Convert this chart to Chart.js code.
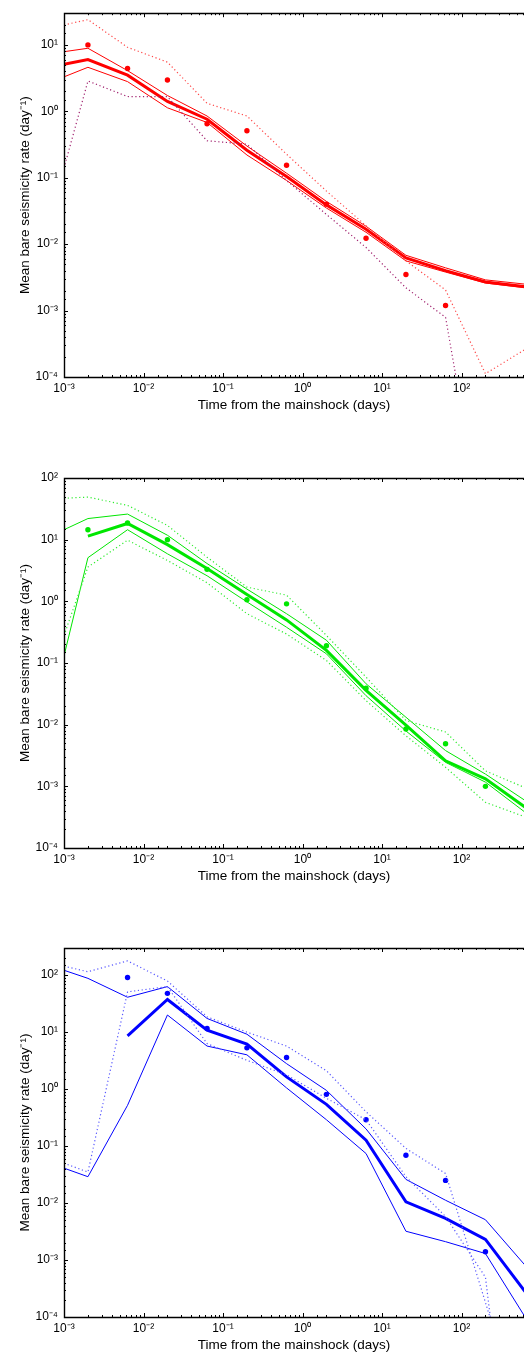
<!DOCTYPE html>
<html>
<head>
<meta charset="utf-8">
<script src="https://cdn.jsdelivr.net/npm/chart.js@4.4.1/dist/chart.umd.min.js"></script>
<style>
  html, body { margin: 0; padding: 0; background: #fff; overflow: hidden; }
  .panel { position: absolute; left: 0; width: 528px; }
</style>
</head>
<body>
<div class="panel" style="top:0px"><canvas id="c1" width="528" height="417"></canvas></div>
<div class="panel" style="top:448px"><canvas id="c2" width="528" height="440"></canvas></div>
<div class="panel" style="top:918px"><canvas id="c3" width="528" height="439"></canvas></div>
<script>
// ── Données ───────────────────────────────────────────────────────────────────
const TIMES = [0.001, 0.002, 0.0063, 0.02, 0.063, 0.2, 0.63, 2, 6.3, 20, 63, 200, 630];

const X_DECADES     = [-3, -2, -1, 0, 1, 2];
const X_TICK_LABELS = ['10⁻³', '10⁻²', '10⁻¹', '10⁰', '10¹', '10²'];
const Y_DECADES     = [-4, -3, -2, -1, 0, 1, 2];
const Y_TICK_LABELS = ['10⁻⁴', '10⁻³', '10⁻²', '10⁻¹', '10⁰', '10¹', '10²'];

const X_TITLE = 'Time from the mainshock (days)';
const Y_TITLE = 'Mean bare seismicity rate (day⁻¹)';

// panneau 1 (rouge)
const redObserved = [null, 10, 4.4, 2.96, 0.65, 0.51, 0.154, 0.04, 0.0123, 0.0035, 0.00119, null, null];
const redMean     = [5.1, 6.0, 3.5, 1.41, 0.76, 0.26, 0.104, 0.039, 0.0168, 0.0062, 0.0040, 0.0027, 0.0023];
const redUpper    = [7.9, 8.9, 4.1, 1.73, 0.85, 0.30, 0.117, 0.044, 0.0186, 0.0068, 0.0044, 0.0029, 0.0025];
const redLower    = [3.3, 4.6, 2.8, 1.13, 0.68, 0.22, 0.091, 0.035, 0.0151, 0.0056, 0.0038, 0.0026, 0.0022];
const redDotHi    = [20, 24, 9.2, 5.5, 1.32, 0.85, 0.226, 0.063, 0.019, 0.0056, 0.00204, 0.000112, 0.00026];
const redDotLo    = [0.14, 2.86, 1.67, 1.66, 0.36, 0.32, 0.091, 0.028, 0.0089, 0.0022, 0.00079, 3e-7, null];

// panneau 2 (vert)
const greenObserved = [null, 14.5, 18.6, 10, 3.3, 1.06, 0.91, 0.19, 0.039, 0.0085, 0.0049, 0.001, null];
const greenMean     = [null, 11.4, 18.3, 8.3, 3.4, 1.29, 0.5, 0.16, 0.036, 0.0098, 0.0026, 0.00132, 0.00046];
const greenUpper    = [14.5, 22, 26, 11.8, 4.1, 1.58, 0.63, 0.234, 0.046, 0.0132, 0.0038, 0.00158, 0.00059];
const greenLower    = [0.13, 5.1, 14.5, 5.9, 2.6, 0.98, 0.38, 0.141, 0.0295, 0.0079, 0.00245, 0.00117, 0.00038];
const greenDotHi    = [47, 49, 36, 17, 5.2, 1.7, 1.26, 0.28, 0.059, 0.0117, 0.0076, 0.00178, 0.00095];
const greenDotLo    = [0.28, 3.6, 9.8, 4.6, 2.0, 0.63, 0.295, 0.11, 0.0245, 0.0066, 0.00204, 0.00055, 0.00032];

// panneau 3 (bleu)
const blueObserved = [null, null, 91, 48, 11.6, 5.3, 3.6, 0.81, 0.29, 0.069, 0.025, 0.0014, null];
const blueMean     = [null, null, 8.6, 37.5, 10.8, 6.2, 1.64, 0.54, 0.127, 0.0105, 0.0054, 0.0023, 0.00028];
const blueUpper    = [122, 88, 41, 63, 17.4, 9.2, 2.8, 0.95, 0.2, 0.026, 0.0112, 0.0051, 0.00081];
const blueLower    = [0.041, 0.029, 0.52, 20, 5.7, 4.0, 1.05, 0.29, 0.074, 0.0032, 0.0021, 0.0013, 0.0001];
const blueDotHi    = [144, 115, 178, 79, 18.6, 10, 5.7, 2.1, 0.4, 0.091, 0.033, 0.00018, 1e-6];
const blueDotLo    = [0.05, 0.035, 51, 63, 6.3, 3.2, 1.78, 0.69, 0.29, 0.029, 0.0058, 0.0005, 1e-9];

// ── Utilitaires ───────────────────────────────────────────────────────────────
function points(vals) {
  return vals.map((v, i) => ({ x: TIMES[i], y: v })).filter(p => p.y != null);
}

function decadeOf(v) {
  const e = Math.log10(v);
  return Math.abs(e - Math.round(e)) < 1e-6 ? Math.round(e) : null;
}

function labelFor(decades, labels) {
  return v => {
    const e = decadeOf(v);
    const i = e === null ? -1 : decades.indexOf(e);
    return i >= 0 ? labels[i] : '';
  };
}

// cadre + graduations vers l'intérieur (style MATLAB)
const frameTicks = {
  id: 'frameTicks',
  afterDraw(chart) {
    const { ctx, chartArea: a, scales: { x, y } } = chart;
    ctx.save();
    ctx.strokeStyle = '#000';
    ctx.lineWidth = 1;
    ctx.beginPath();
    x.ticks.forEach(t => {
      const px = Math.round(x.getPixelForValue(t.value)) + 0.5;
      if (px < a.left - 1 || px > a.right) return;
      const len = decadeOf(t.value) !== null ? 4 : 2;
      ctx.moveTo(px, a.bottom); ctx.lineTo(px, a.bottom - len);
      ctx.moveTo(px, a.top);    ctx.lineTo(px, a.top + len);
    });
    y.ticks.forEach(t => {
      const py = Math.round(y.getPixelForValue(t.value)) + 0.5;
      if (py < a.top || py > a.bottom + 1) return;
      const len = decadeOf(t.value) !== null ? 4 : 2;
      ctx.moveTo(a.left, py); ctx.lineTo(a.left + len, py);
    });
    ctx.stroke();
    ctx.lineWidth = 1.4;
    ctx.beginPath();
    ctx.moveTo(a.right, Math.round(a.top) + 0.5);
    ctx.lineTo(a.left + 0.5, Math.round(a.top) + 0.5);
    ctx.lineTo(a.left + 0.5, Math.round(a.bottom) + 0.5);
    ctx.lineTo(a.right, Math.round(a.bottom) + 0.5);
    ctx.stroke();
    ctx.restore();
  }
};

function lineSet(vals, color, width, dash) {
  return {
    data: points(vals),
    borderColor: color,
    borderWidth: width,
    borderDash: dash || [],
    pointRadius: 0,
    fill: false,
    tension: 0,
  };
}

function dotSet(vals, color) {
  return {
    data: points(vals),
    showLine: false,
    pointRadius: 2.7,
    pointBackgroundColor: color,
    pointBorderWidth: 0,
  };
}

function buildPanel(id, padTop, yMax, colors, series) {
  const [obs, mean, upper, lower, dotHi, dotLo] = series;
  const ctx = document.getElementById(id).getContext('2d');
  return new Chart(ctx, {
    type: 'line',
    data: {
      datasets: [
        lineSet(dotHi, colors.dotHi, 1.2, [1.2, 2.6]),
        lineSet(dotLo, colors.dotLo, 1.2, [1.2, 2.6]),
        lineSet(upper, colors.main, 1),
        lineSet(lower, colors.main, 1),
        lineSet(mean, colors.main, 3),
        dotSet(obs, colors.main),
      ],
    },
    options: {
      responsive: false,
      animation: false,
      layout: { padding: { top: padTop, left: 0, right: 0, bottom: 0 } },
      plugins: { legend: { display: false }, tooltip: { enabled: false } },
      scales: {
        x: {
          type: 'logarithmic',
          min: 0.001,
          max: 611,
          grid: { display: false, drawTicks: false },
          border: { display: false },
          ticks: {
            autoSkip: false, maxRotation: 0, minRotation: 0, padding: 4,
            color: '#000', font: { family: 'Liberation Sans, Arial, sans-serif', size: 12 },
            callback: labelFor(X_DECADES, X_TICK_LABELS),
          },
          title: {
            display: true, text: X_TITLE, color: '#000',
            font: { family: 'Liberation Sans, Arial, sans-serif', size: 13.5 },
            padding: { top: 4, bottom: 4 },
          },
          afterFit: s => { s.height = 40; },
        },
        y: {
          type: 'logarithmic',
          min: 0.0001,
          max: yMax,
          grid: { display: false, drawTicks: false },
          border: { display: false },
          ticks: {
            autoSkip: false, padding: 6,
            color: '#000', font: { family: 'Liberation Sans, Arial, sans-serif', size: 12 },
            callback: labelFor(Y_DECADES, Y_TICK_LABELS),
          },
          title: {
            display: true, text: Y_TITLE, color: '#000',
            font: { family: 'Liberation Sans, Arial, sans-serif', size: 13.5 },
            padding: { top: 17, bottom: 0 },
          },
          afterFit: s => { s.width = 64; },
        },
      },
    },
    plugins: [frameTicks],
  });
}

buildPanel('c1', 7, 30,
  { main: '#ff0000', dotHi: '#ff4848', dotLo: '#a0206e' },
  [redObserved, redMean, redUpper, redLower, redDotHi, redDotLo]);

buildPanel('c2', 30, 100,
  { main: '#00e600', dotHi: '#30ec30', dotLo: '#30ec30' },
  [greenObserved, greenMean, greenUpper, greenLower, greenDotHi, greenDotLo]);

buildPanel('c3', 30, 300,
  { main: '#0000ff', dotHi: '#5a5aff', dotLo: '#5a5aff' },
  [blueObserved, blueMean, blueUpper, blueLower, blueDotHi, blueDotLo]);
</script>
</body>
</html>
